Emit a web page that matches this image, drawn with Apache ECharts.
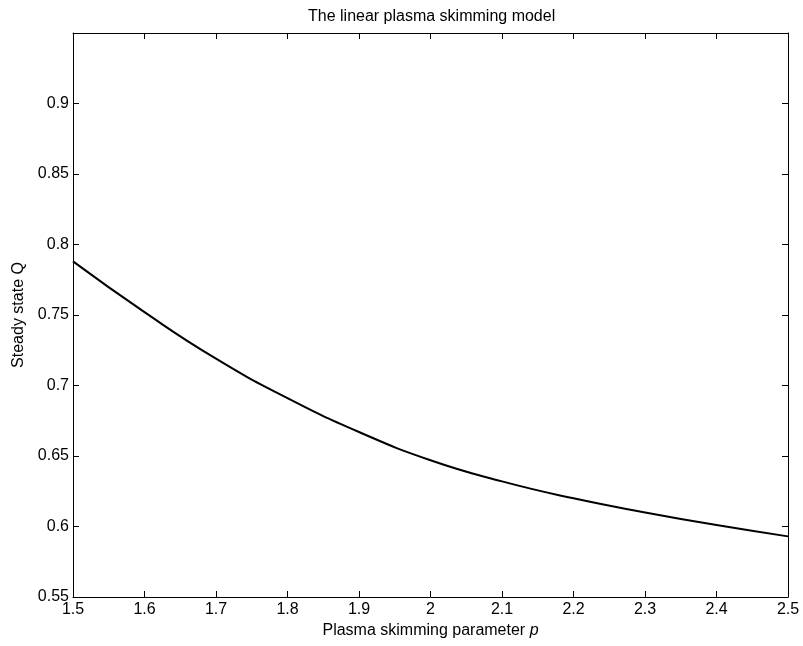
<!DOCTYPE html>
<html>
<head>
<meta charset="utf-8">
<title>The linear plasma skimming model</title>
<script src="https://cdn.jsdelivr.net/npm/echarts@6/dist/echarts.min.js"></script>
<style>
  html, body { margin: 0; padding: 0; background: #fff; }
  #chart { width: 803px; height: 646px; }
</style>
</head>
<body>
<div id="chart"></div>
<script>
// plasma skimming parameter p
const pValues = [1.5, 1.6, 1.7, 1.8, 1.9, 2.0, 2.1, 2.2, 2.3, 2.4, 2.5];
// steady state Q
const qValues = [0.788, 0.752, 0.719, 0.691, 0.667, 0.647, 0.632, 0.620, 0.610, 0.601, 0.593];

const chart = echarts.init(document.getElementById('chart'));
const font = '"Liberation Sans", Arial, Helvetica, sans-serif';

// ticks on all four sides, matlab style
const axisCommon = {
  axisLine: {show: true, onZero: false, lineStyle: {color: '#000', width: 1}},
  axisTick: {show: true, inside: true, length: 6, lineStyle: {color: '#000'}},
  splitLine: {show: false}
};

const option = {
  backgroundColor: '#fff',
  animation: false,
  title: {
    text: 'The linear plasma skimming model',
    left: 303,
    top: 4,
    textStyle: {color: '#000', fontSize: 16, fontWeight: 'normal', fontFamily: font}
  },
  grid: {left: 73, right: 15, top: 33, bottom: 49},
  xAxis: [
    {
      ...axisCommon,
      type: 'value',
      position: 'bottom',
      min: 1.5, max: 2.5, interval: 0.1,
      name: 'Plasma skimming parameter {i|p}',
      nameLocation: 'middle',
      nameGap: 18,
      nameTextStyle: {
        color: '#000', fontSize: 16, fontFamily: font, verticalAlign: 'top',
        rich: {i: {fontStyle: 'italic', fontSize: 16, fontFamily: font, color: '#000'}}
      },
      axisLabel: {color: '#000', fontSize: 16, fontFamily: font, margin: 5,
        formatter: v => String(Math.round(v * 10) / 10)}
    },
    {
      ...axisCommon,
      type: 'value',
      position: 'top',
      min: 1.5, max: 2.5, interval: 0.1,
      axisLabel: {show: false}
    }
  ],
  yAxis: [
    {
      ...axisCommon,
      type: 'value',
      position: 'left',
      min: 0.55, max: 0.95, interval: 0.05,
      name: 'Steady state Q',
      nameLocation: 'middle',
      nameGap: 44,
      nameTextStyle: {color: '#000', fontSize: 16, fontFamily: font},
      axisLabel: {color: '#000', fontSize: 16, fontFamily: font, margin: 4,
        formatter: v => (v > 0.94 ? '' : String(Math.round(v * 100) / 100))}
    },
    {
      ...axisCommon,
      type: 'value',
      position: 'right',
      min: 0.55, max: 0.95, interval: 0.05,
      axisLabel: {show: false}
    }
  ],
  series: [
    {
      type: 'line',
      smooth: true,
      symbol: 'none',
      lineStyle: {color: '#000', width: 2},
      data: pValues.map((p, i) => [p, qValues[i]])
    }
  ]
};

chart.setOption(option);
</script>
</body>
</html>
